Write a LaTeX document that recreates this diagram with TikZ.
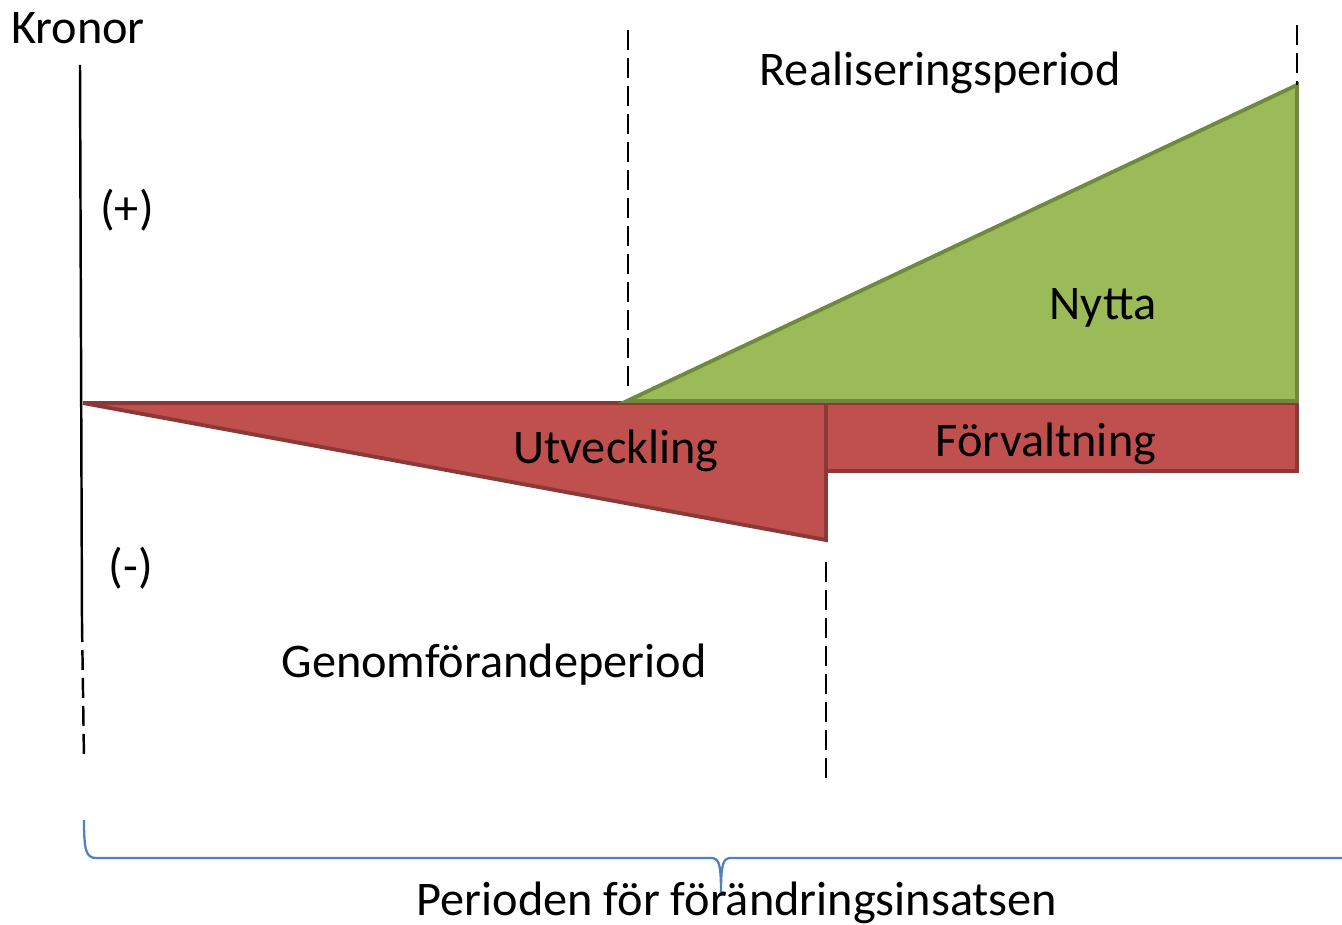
\documentclass[tikz,border=0pt]{standalone}
\usepackage{fontspec}
\setmainfont{Carlito}
\usepackage{tikz}
\usetikzlibrary{positioning, calc}

\definecolor{costred}{HTML}{C0504D}
\definecolor{costedge}{HTML}{8C3836}
\definecolor{gaingreen}{HTML}{9BBB59}
\definecolor{gainedge}{HTML}{71893F}
\definecolor{braceblue}{HTML}{4F81BD}

\begin{document}
\begin{tikzpicture}[x=0.02cm, y=-0.02cm,
      every node/.style={inner sep=0pt, font=\fontsize{27.5}{32}\selectfont},
        cost/.style={fill=costred, draw=costedge, line width=2.2pt, line join=miter},
        gain/.style={fill=gaingreen, draw=gainedge, line width=2.2pt, line join=miter},
        period/.style={black, line width=1.4pt, dash pattern=on 0.4cm off 0.16cm},
        bracepath/.style={draw=braceblue, line width=1.3pt}
          ]
        \useasboundingbox (0,0) rectangle (1342,925);

        % Axis
        \coordinate (axtop) at (80,65);
        \coordinate (axmid) at (82,622);
        \coordinate (axbot) at (84,760);
        \draw [line width=1.4pt] (axtop) -- (axmid);
        \draw [period] (axmid) -- (axbot);
        \node (kronor) at (78,28) {Kronor};
        \node (plus) at (127,210) {(+)};
        \node (minus) at (131,568) {(-)};

        % Costs
        \coordinate (origin) at (83,403);
        \coordinate (devend) at (826,403);
        \coordinate (devlow) at (826,540);
        \coordinate (mntend) at (1297,471);
        \draw [cost] (origin) -- (devend) -- (devlow) -- cycle;
        \draw [cost] (devend) rectangle (mntend);

        % Benefit
        \coordinate (gainstart) at (627,401);
        \coordinate (gaintop) at (1297,85);
        \coordinate (gainend) at (1297,401);
        \draw [gain] (gainstart) -- (gaintop) -- (gainend) -- cycle;

        % Period boundaries
        \draw [period] (628,30) -- (628,390);
        \draw [period] (1297,25) -- (gaintop);
        \draw [period] (826,562) -- (826,780);

        % Labels
        \node (realise) at (940,73) {Realiseringsperiod};
        \node (benefit) at (1103,308) {Nytta};
        \node (develop) at (616,451) {Utveckling};
        \node (maintain) at (1046,444) {Förvaltning};
        \node (execute) at (494,665) {Genomförandeperiod};

        % Brace for the whole effort
        \coordinate (brleft) at (84,820);
        \coordinate (brtip) at (721,892);
        \coordinate (brright) at (1342,858);
        \draw [bracepath] (brleft) .. controls (84,850) and (86,858) .. (96,858)
          -- (711,858) .. controls (719,858) and (721,864) .. (brtip)
          .. controls (721,864) and (723,858) .. (731,858) -- (brright);
        \node (effort) at (737,903) {Perioden för förändringsinsatsen};

          \end{tikzpicture}
\end{document}
